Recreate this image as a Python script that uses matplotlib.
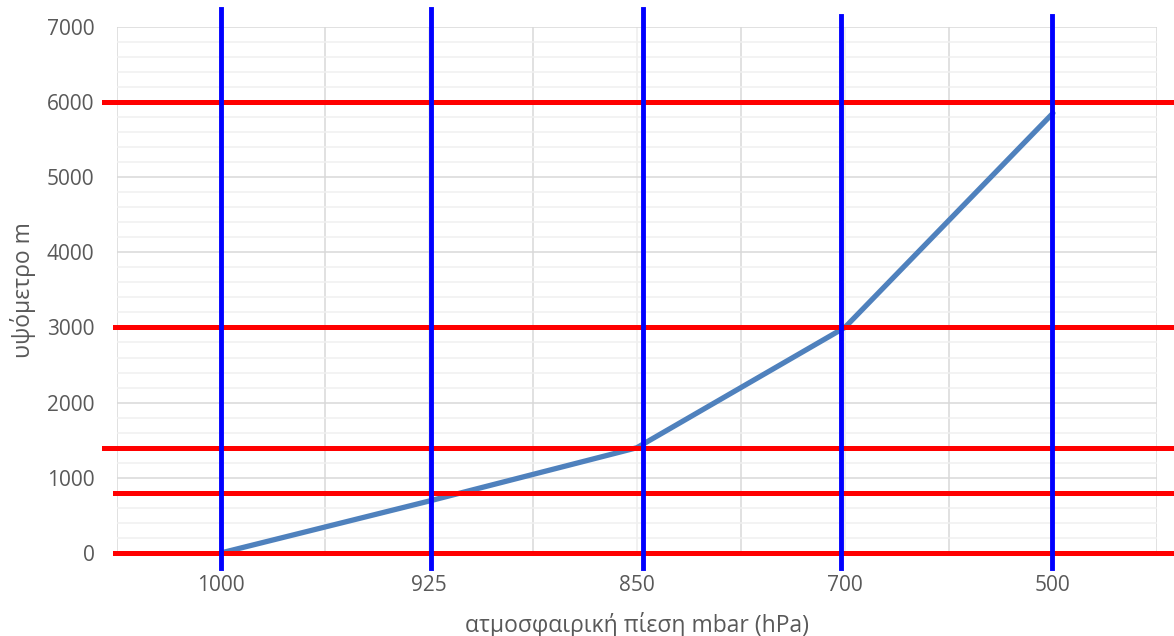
import matplotlib.pyplot as plt
import numpy as np

# data
pressure_labels = ['1000', '925', '850', '700', '500']
heights = [0, 690, 1400, 3000, 5850]

# reference levels (red horizontal lines) and pressure markers (blue vertical lines)
red_levels = [0, 800, 1400, 3000, 6000]
red_start = [-0.0016, -0.0016, -0.0122, -0.0016, -0.0122]
blue_pos = [0, 1.01, 2.03, 2.98, 3.995]
blue_top = [1.034, 1.034, 1.034, 1.020, 1.020]

plt.rcParams['font.family'] = ['Open Sans', 'DejaVu Sans']

fig = plt.figure(figsize=(11.74, 6.36), dpi=100)
ax = fig.add_axes([0.0994, 0.1305, 0.8861, 0.8275])

x = np.arange(len(pressure_labels))
ax.set_xlim(-0.5, len(pressure_labels) - 0.5)
ax.set_ylim(0, 7000)

# gridlines like excel: major between categories, minor on categories
ax.set_xticks(x)
ax.set_xticklabels(pressure_labels)
ax.set_yticks(np.arange(0, 7001, 1000))

for xv in np.arange(-0.5, len(pressure_labels), 1.0):
    ax.axvline(xv, color='#d9d9d9', lw=1.1, zorder=0)
for xv in x:
    ax.axvline(xv, color='#eeeeee', lw=1.1, zorder=0)
for yv in np.arange(0, 7001, 200):
    if yv % 1000 == 0:
        ax.axhline(yv, color='#d9d9d9', lw=1.1, zorder=0)
    else:
        ax.axhline(yv, color='#f0f0f0', lw=1.1, zorder=0)

for s in ax.spines.values():
    s.set_visible(False)
ax.tick_params(which='both', length=0, colors='#595959', labelsize=15)
ax.tick_params(axis='x', pad=16)
ax.tick_params(axis='y', pad=16)

ax.plot(x, heights, color='#4f81bd', lw=3.8, solid_capstyle='round', zorder=3)

ytr = ax.get_yaxis_transform()
for lvl, x0 in zip(red_levels, red_start):
    ax.plot([x0, 1.0144], [lvl, lvl], color='#ff0000', lw=3.6,
            transform=ytr, clip_on=False, zorder=4)

xtr = ax.get_xaxis_transform()
for xp, top in zip(blue_pos, blue_top):
    ax.plot([xp, xp], [-0.028, top], color='#0000ff', lw=3.5,
            transform=xtr, clip_on=False, zorder=5)

ax.set_xlabel('ατμοσφαιρική πίεση mbar (hPa)', fontsize=16.5, color='#595959', labelpad=11.5)
ax.set_ylabel('υψόμετρο m', fontsize=16.5, color='#595959', labelpad=8)

fig.savefig('out.png', dpi=100)
